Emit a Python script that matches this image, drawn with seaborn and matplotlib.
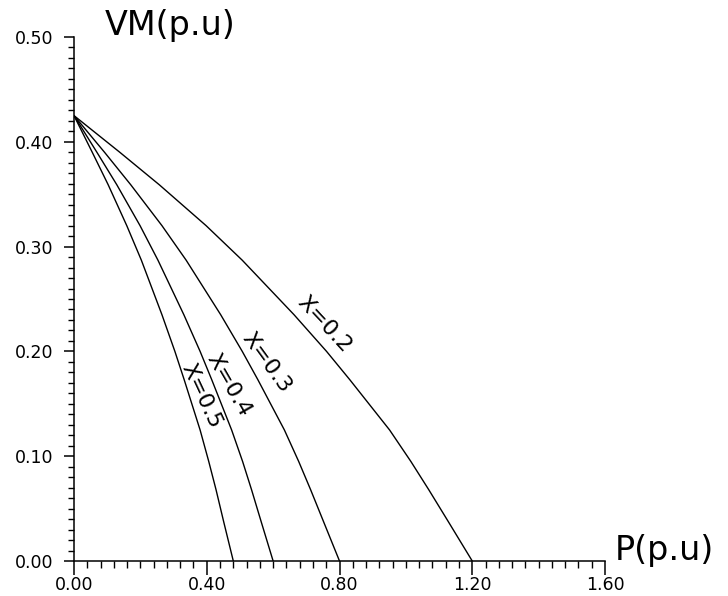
import matplotlib
matplotlib.use("Agg")
import matplotlib.pyplot as plt
import matplotlib.ticker as mticker
import numpy as np
import pandas as pd
import seaborn as sns

# Values
vm_levels = [0.425, 0.390, 0.359, 0.320, 0.287, 0.235, 0.200, 0.173, 0.125, 0.095, 0.068, 0.0375, 0.0]
p_x02 = [0.0, 0.138, 0.257, 0.398, 0.507, 0.663, 0.761, 0.831, 0.951, 1.015, 1.069, 1.128, 1.200]
p_x03 = [0.0, 0.092, 0.171, 0.265, 0.338, 0.442, 0.507, 0.554, 0.634, 0.677, 0.713, 0.752, 0.800]
p_x04 = [0.0, 0.069, 0.129, 0.199, 0.253, 0.331, 0.380, 0.415, 0.475, 0.508, 0.535, 0.564, 0.600]
p_x05 = [0.0, 0.055, 0.103, 0.159, 0.203, 0.265, 0.304, 0.332, 0.380, 0.406, 0.428, 0.451, 0.480]
series_names = ["X=0.2", "X=0.3", "X=0.4", "X=0.5"]
x_ticks = [0.0, 0.4, 0.8, 1.2, 1.6]
y_ticks = [0.0, 0.1, 0.2, 0.3, 0.4, 0.5]

frames = []
for name, pv in zip(series_names, [p_x02, p_x03, p_x04, p_x05]):
    frames.append(pd.DataFrame({"P": pv, "VM": vm_levels, "curve": name}))
df = pd.concat(frames, ignore_index=True)

sns.set_style("ticks")
plt.rcParams["font.family"] = ["DejaVu Sans"]
plt.rcParams["text.color"] = "black"
plt.rcParams["xtick.color"] = "black"
plt.rcParams["ytick.color"] = "black"

fig = plt.figure(figsize=(7.28, 5.96), dpi=100)
ax = fig.add_axes([74 / 728, 35 / 596, (605 - 74) / 728, (561 - 37) / 596])

sns.lineplot(data=df, x="P", y="VM", hue="curve", palette=["black"] * 4,
             legend=False, sort=False, estimator=None, linewidth=1.0, ax=ax)

ax.set_xlim(0, 1.6)
ax.set_ylim(0, 0.5)
ax.set_xticks(x_ticks)
ax.set_yticks(y_ticks)
ax.xaxis.set_minor_locator(mticker.MultipleLocator(0.04))
ax.yaxis.set_minor_locator(mticker.MultipleLocator(0.01))
ax.xaxis.set_major_formatter(mticker.FormatStrFormatter("%.2f"))
ax.yaxis.set_major_formatter(mticker.FormatStrFormatter("%.2f"))
ax.set_xlabel("")
ax.set_ylabel("")
for s in ["top", "right"]:
    ax.spines[s].set_visible(False)
for s in ["left", "bottom"]:
    ax.spines[s].set_linewidth(1.1)
    ax.spines[s].set_color("black")

ax.tick_params(axis="x", which="major", direction="out", length=10, width=1.1,
               labelsize=12.5, pad=1, colors="black", labelcolor="black")
ax.tick_params(axis="x", which="minor", direction="out", length=5, width=1.0, colors="black")
ax.tick_params(axis="y", which="major", direction="out", length=7, width=1.1,
               labelsize=12.5, pad=8, colors="black", labelcolor="black")
ax.tick_params(axis="y", which="minor", direction="out", length=4, width=1.0, colors="black")

# Axis titles
fig.text(170 / 728, (596 - 35) / 596, "VM(p.u)", ha="center", va="baseline",
         fontsize=24, color="black")
fig.text(664 / 728, (596 - 560) / 596, "P(p.u)", ha="center", va="baseline",
         fontsize=24, color="black")

# Curve labels
label_pos = [(0.755, 0.226, -47), (0.580, 0.189, -54), (0.466, 0.168, -60), (0.384, 0.158, -65)]
for name, (px, py, rot) in zip(series_names, label_pos):
    ax.text(px, py, name, rotation=rot, rotation_mode="anchor", ha="center", va="center",
            fontsize=16, color="black")

fig.savefig("out.png", dpi=100)
